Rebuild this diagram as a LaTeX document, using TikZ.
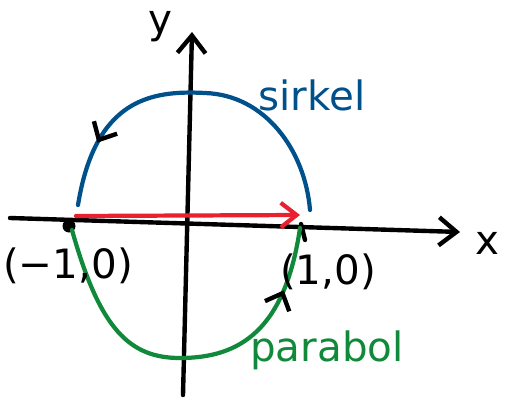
\documentclass[tikz,border=0pt]{standalone}
\usepackage{fontspec}
\setmainfont{DejaVu Sans}
\usetikzlibrary{arrows.meta, decorations.markings}
\definecolor{circleblue}{RGB}{0,80,140}
\definecolor{arrowred}{RGB}{232,32,48}
\definecolor{parabolagreen}{RGB}{16,138,58}

\begin{document}
\begin{tikzpicture}[
    x=0.02cm, y=-0.02cm,
    axis/.style={draw=black, line width=2.5pt, line cap=round, -{Straight Barb[length=10pt, width=16pt, line width=2.5pt]}},
    curve/.style={line width=2.4pt, line cap=round},
    tick/.style={draw=black, line width=2.5pt, line cap=round},
    head_mark/.style={postaction={decorate}, decoration={markings, mark=at position #1 with {\arrow[black, line width=2.5pt]{Straight Barb[length=8pt, width=15pt]}}}},
    label_text/.style={inner sep=0pt, font=\fontsize{23}{27}\selectfont},
]
    \useasboundingbox (0,0) rectangle (506,402);

    \coordinate(x_start) at (10,218);
    \coordinate(x_end) at (460,232);
    \coordinate(y_start) at (183,395);
    \coordinate(y_end) at (192,32);
    \draw[axis] (x_start) -- (x_end);
    \draw[axis] (y_start) -- (y_end);
    \node(label_x)[label_text] at (487,243) {x};
    \node(label_y)[label_text] at (160,27) {y};

    \coordinate(minus_one) at (69,226);
    \coordinate(plus_one) at (301,224);
    \coordinate(tick_end) at (305,240);
    \fill (minus_one) circle (0.13cm);
    \draw[tick] (plus_one) -- (tick_end);

    \coordinate(blue_start) at (310,210);
    \coordinate(blue_top) at (205,93);
    \coordinate(blue_end) at (78,205);
    \draw[curve, circleblue, head_mark=0.82] (blue_start)
        .. controls (305,150) and (265,95) .. (blue_top)
        .. controls (150,90) and (95,100) .. (blue_end);

    \coordinate(green_start) at (72,230);
    \coordinate(green_bottom) at (180,358);
    \coordinate(green_end) at (300,228);
    \draw[curve, parabolagreen, head_mark=0.83] (green_start)
        .. controls (100,330) and (130,358) .. (green_bottom)
        .. controls (240,358) and (285,330) .. (green_end);

    \coordinate(red_start) at (76,216);
    \coordinate(red_end) at (300,215);
    \draw[curve, arrowred, -{Straight Barb[length=9pt, width=14pt, line width=2.4pt]}] (red_start) -- (red_end);

    \node(label_left)[label_text] at (68,266) {(−1,0)};
    \node(label_right)[label_text] at (328,272) {(1,0)};
    \node(label_circle)[label_text, text=circleblue] at (312,95) {sirkel};
    \node(label_parabola)[label_text, text=parabolagreen] at (327,350) {parabol};
    %\node(label_origin)[label_text] at (170,240) {O};
\end{tikzpicture}
\end{document}
